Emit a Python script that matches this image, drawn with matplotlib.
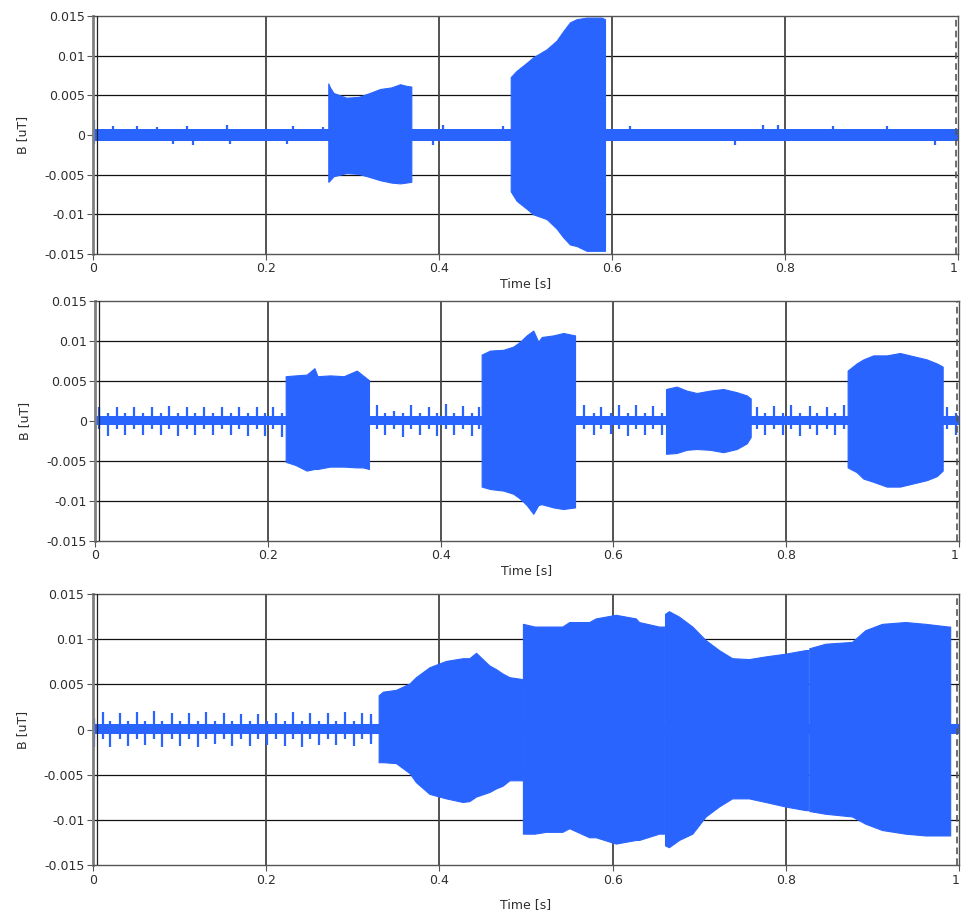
import numpy as np
import matplotlib.pyplot as plt

BLUE = '#2a64ff'

# ---------------- data ----------------
# top panel: noise band, small bumps and two bursts
p1_base_hi, p1_base_lo = 0.0008, -0.0007
p1_bump_t = [0.001, 0.023, 0.051, 0.074, 0.109, 0.155, 0.231, 0.266, 0.405, 0.474,
             0.621, 0.775, 0.792, 0.855, 0.918]
p1_bump_v = [0.0019, 0.0011, 0.0011, 0.0010, 0.0011, 0.0012, 0.0011, 0.0010, 0.0012,
             0.0011, 0.0011, 0.0012, 0.0012, 0.0011, 0.0011]
p1_dip_t = [0.001, 0.092, 0.116, 0.158, 0.224, 0.393, 0.742, 0.973]
p1_dip_v = [-0.0011, -0.0011, -0.0012, -0.0011, -0.0011, -0.0013, -0.0012, -0.0012]

p1_a_t = [0.272, 0.274, 0.278, 0.293, 0.307, 0.320, 0.332, 0.345, 0.355, 0.362, 0.368]
p1_a_hi = [0.0065, 0.0060, 0.0053, 0.0047, 0.0048, 0.0053, 0.0058, 0.0060, 0.0064, 0.0062, 0.0061]
p1_a_lo = [-0.0059, -0.0057, -0.0052, -0.0048, -0.0049, -0.0053, -0.0057, -0.0060, -0.0061, -0.0060, -0.0059]

p1_b_t = [0.4829, 0.4898, 0.5014, 0.509, 0.5245, 0.536, 0.5437, 0.5514, 0.5592, 0.5707, 0.588, 0.5919]
p1_b_hi = [0.0073, 0.0081, 0.0091, 0.0098, 0.0108, 0.0119, 0.0131, 0.0142, 0.0146, 0.0148, 0.0148, 0.0146]
p1_b_lo = [-0.0071, -0.0083, -0.0093, -0.0100, -0.0106, -0.0118, -0.0129, -0.0138, -0.0140, -0.0146, -0.0146, -0.0146]

# middle panel: periodic spikes and four bursts
p2_base_hi, p2_base_lo = 0.0006, -0.0005
p2_minor = 0.0010
p2_up_t = [0.005, 0.025, 0.045, 0.066, 0.086, 0.106, 0.126, 0.147, 0.167, 0.187, 0.206,
           0.326, 0.346, 0.366, 0.387, 0.406, 0.426, 0.445,
           0.566, 0.586, 0.607, 0.626, 0.646,
           0.766, 0.786, 0.806, 0.827, 0.847, 0.867, 0.986]
p2_up_v = [0.0018, 0.0018, 0.0017, 0.0018, 0.0019, 0.0018, 0.0018, 0.0018, 0.0018, 0.0017, 0.0018,
           0.0020, 0.0013, 0.0020, 0.0017, 0.0021, 0.0019, 0.0018,
           0.0020, 0.0017, 0.0020, 0.0020, 0.0019,
           0.0018, 0.0019, 0.0020, 0.0019, 0.0018, 0.0020, 0.0018]
p2_dn_t = [0.015, 0.035, 0.055, 0.076, 0.096, 0.116, 0.136, 0.157, 0.177, 0.197, 0.216,
           0.336, 0.356, 0.376, 0.396, 0.416, 0.436,
           0.577, 0.597, 0.617, 0.637, 0.656,
           0.776, 0.796, 0.816, 0.836, 0.857, 0.996]
p2_dn_v = [-0.0019, -0.0018, -0.0018, -0.0017, -0.0019, -0.0018, -0.0018, -0.0018, -0.0019, -0.0019, -0.0020,
           -0.0018, -0.0020, -0.0017, -0.0019, -0.0018, -0.0019,
           -0.0018, -0.0016, -0.0019, -0.0017, -0.0018,
           -0.0018, -0.0017, -0.0019, -0.0018, -0.0017, -0.0018]

p2_a_t = [0.2207, 0.232, 0.245, 0.254, 0.2575, 0.272, 0.288, 0.303, 0.310, 0.3171]
p2_a_hi = [0.0056, 0.0057, 0.0058, 0.0066, 0.0056, 0.0057, 0.0056, 0.0063, 0.0057, 0.0051]
p2_a_lo = [-0.0051, -0.0055, -0.0062, -0.0060, -0.0060, -0.0057, -0.0057, -0.0058, -0.0058, -0.0060]

p2_b_t = [0.4475, 0.4572, 0.4726, 0.4842, 0.4919, 0.4996, 0.5073, 0.5131, 0.517, 0.5305, 0.542, 0.5556]
p2_b_hi = [0.0083, 0.0088, 0.0089, 0.0093, 0.0099, 0.0107, 0.0113, 0.0099, 0.0105, 0.0107, 0.0110, 0.0107]
p2_b_lo = [-0.0082, -0.0085, -0.0087, -0.0091, -0.0097, -0.0105, -0.0116, -0.0105, -0.0104, -0.0108, -0.0110, -0.0108]

p2_c_t = [0.6609, 0.6732, 0.6848, 0.6964, 0.7118, 0.7272, 0.7427, 0.7543, 0.7589]
p2_c_hi = [0.0040, 0.0043, 0.0038, 0.0035, 0.0038, 0.0040, 0.0036, 0.0032, 0.0028]
p2_c_lo = [-0.0041, -0.0040, -0.0036, -0.0035, -0.0036, -0.0039, -0.0035, -0.0028, -0.0020]

p2_d_t = [0.8711, 0.8816, 0.8893, 0.9008, 0.9163, 0.9317, 0.9471, 0.9626, 0.9742, 0.9811]
p2_d_hi = [0.0063, 0.0072, 0.0077, 0.0082, 0.0082, 0.0085, 0.0081, 0.0077, 0.0072, 0.0068]
p2_d_lo = [-0.0058, -0.0064, -0.0072, -0.0076, -0.0082, -0.0082, -0.0078, -0.0074, -0.0069, -0.0062]

# bottom panel: spikes then one long, modulated burst in four pieces
p3_base_hi, p3_base_lo = 0.0006, -0.0005
p3_minor = 0.0010
p3_up_t = [0.001, 0.0115, 0.0315, 0.0507, 0.0706, 0.091, 0.111, 0.1313, 0.1513, 0.1712, 0.1912,
           0.2112, 0.2311, 0.2512, 0.2714, 0.2907, 0.311, 0.3214]
p3_up_v = [0.0013, 0.0019, 0.0018, 0.0019, 0.0021, 0.0018, 0.0018, 0.0019, 0.0018, 0.0017, 0.0017,
           0.0018, 0.0019, 0.0018, 0.0018, 0.0019, 0.0018, 0.0017]
p3_dn_t = [0.001, 0.0199, 0.0403, 0.0603, 0.0805, 0.1006, 0.1217, 0.1409, 0.1613, 0.1812, 0.2012,
           0.2215, 0.2419, 0.2611, 0.281, 0.302, 0.3214]
p3_dn_v = [-0.0019, -0.0019, -0.0018, -0.0017, -0.0019, -0.0018, -0.0019, -0.0016, -0.0018, -0.0018, -0.0017,
           -0.0018, -0.0019, -0.0017, -0.0017, -0.0018, -0.0016]

p3_a_t = [0.330, 0.335, 0.350, 0.3656, 0.373, 0.3886, 0.4078, 0.427, 0.4347, 0.4424, 0.4577, 0.4654, 0.473, 0.481, 0.4954]
p3_a_hi = [0.0038, 0.0042, 0.0044, 0.0051, 0.0058, 0.0069, 0.0076, 0.0079, 0.0079, 0.0085, 0.0071, 0.0067, 0.0062, 0.0058, 0.0056]
p3_a_lo = [-0.0036, -0.0036, -0.0037, -0.0048, -0.0058, -0.0071, -0.0076, -0.0080, -0.0079, -0.0074, -0.0069, -0.0065, -0.0062, -0.0056, -0.0056]

p3_b_t = [0.4965, 0.51, 0.523, 0.542, 0.550, 0.573, 0.5806, 0.6037, 0.6267, 0.6305, 0.6536, 0.6595]
p3_b_hi = [0.0117, 0.0114, 0.0114, 0.0114, 0.0119, 0.0119, 0.0123, 0.0127, 0.0123, 0.0119, 0.0114, 0.0114]
p3_b_lo = [-0.0115, -0.0115, -0.0113, -0.0113, -0.0109, -0.0119, -0.0119, -0.0126, -0.0122, -0.0122, -0.0115, -0.0115]

p3_c_t = [0.6605, 0.665, 0.6766, 0.692, 0.7074, 0.7227, 0.738, 0.7573, 0.7765, 0.7995, 0.8226, 0.826]
p3_c_hi = [0.0128, 0.0131, 0.0125, 0.0114, 0.0099, 0.0088, 0.0079, 0.0078, 0.0081, 0.0084, 0.0088, 0.0088]
p3_c_lo = [-0.0128, -0.0130, -0.0122, -0.0115, -0.0096, -0.0085, -0.0076, -0.0076, -0.0080, -0.0085, -0.0089, -0.0089]

p3_d_t = [0.827, 0.8456, 0.8763, 0.8917, 0.911, 0.9378, 0.961, 0.9877, 0.9896]
p3_d_hi = [0.0090, 0.0095, 0.0097, 0.0110, 0.0117, 0.0119, 0.0117, 0.0114, 0.0114]
p3_d_lo = [-0.0090, -0.0093, -0.0096, -0.0104, -0.0111, -0.0115, -0.0117, -0.0117, -0.0117]

x_ticks = [0, 0.2, 0.4, 0.6, 0.8, 1]
x_ticklabels = ['0', '0.2', '0.4', '0.6', '0.8', '1']
y_ticks = [0.015, 0.01, 0.005, 0, -0.005, -0.01, -0.015]
y_ticklabels = ['0.015', '0.01', '0.005', '0', '-0.005', '-0.01', '-0.015']
cursor_left, cursor_right = 0.0045, 0.9975

# ---------------- drawing ----------------
plt.rcParams['font.family'] = 'DejaVu Sans'
TXT = '#2e2e2e'

fig = plt.figure(figsize=(9.62, 9.16), dpi=100)
fig.patch.set_facecolor('white')

ax1 = fig.add_axes([93 / 962, 1 - 254 / 916, 865 / 962, 238 / 916])
ax2 = fig.add_axes([95 / 962, 1 - 541 / 916, 864 / 962, 240 / 916])
ax3 = fig.add_axes([92.7 / 962, 1 - 865.3 / 916, 866.5 / 962, 271.3 / 916])


def style(ax, xpad):
    ax.set_xlim(0, 1)
    ax.set_ylim(-0.015, 0.015)
    ax.set_axisbelow(True)
    for y in y_ticks[1:-1]:
        ax.axhline(y, color='#111111', lw=0.9, zorder=0)
    for x in x_ticks[1:-1]:
        ax.axvline(x, color='#444444', lw=1.3, zorder=0)
    ax.axvline(cursor_left, color='#222222', lw=0.9, zorder=5)
    ax.axvline(cursor_right, color='#555555', lw=1.2, ls=(0, (4, 2.5)), zorder=5)
    ax.set_xticks(x_ticks)
    ax.set_xticklabels(x_ticklabels)
    ax.set_yticks(y_ticks)
    ax.set_yticklabels(y_ticklabels)
    ax.tick_params(direction='out', length=4, width=0.8, color='#555555',
                   labelsize=9, labelcolor=TXT, pad=2)
    for s in ['top', 'bottom', 'right']:
        ax.spines[s].set_color('#555555')
        ax.spines[s].set_linewidth(1.0)
    ax.spines['left'].set_color('#808080')
    ax.spines['left'].set_linewidth(2.0)
    ax.set_xlabel('Time [s]', fontsize=9, color=TXT, labelpad=xpad)
    ax.set_ylabel('B [uT]', fontsize=9, color=TXT, labelpad=11)
    # keep the last tick label inside the figure
    ax.get_xticklabels()[-1].set_horizontalalignment('right')


def burst(ax, t, hi, lo):
    ax.fill_between(t, lo, hi, color=BLUE, lw=0.8, edgecolor=BLUE, zorder=2)


# top
ax1.fill_between([0, 1], p1_base_lo, p1_base_hi, color=BLUE, lw=0, zorder=2)
ax1.vlines(p1_bump_t, 0, p1_bump_v, color=BLUE, lw=1.6, zorder=2)
ax1.vlines(p1_dip_t, p1_dip_v, 0, color=BLUE, lw=1.6, zorder=2)
burst(ax1, p1_a_t, p1_a_hi, p1_a_lo)
burst(ax1, p1_b_t, p1_b_hi, p1_b_lo)
style(ax1, 1)

# middle
ax2.fill_between([0, 1], p2_base_lo, p2_base_hi, color=BLUE, lw=0, zorder=2)
ax2.vlines(p2_up_t, -p2_minor, p2_up_v, color=BLUE, lw=1.6, zorder=2)
ax2.vlines(p2_dn_t, p2_dn_v, p2_minor, color=BLUE, lw=1.6, zorder=2)
burst(ax2, p2_a_t, p2_a_hi, p2_a_lo)
burst(ax2, p2_b_t, p2_b_hi, p2_b_lo)
burst(ax2, p2_c_t, p2_c_hi, p2_c_lo)
burst(ax2, p2_d_t, p2_d_hi, p2_d_lo)
style(ax2, 1)

# bottom
ax3.fill_between([0, 1], p3_base_lo, p3_base_hi, color=BLUE, lw=0, zorder=2)
ax3.vlines(p3_up_t, -p3_minor, p3_up_v, color=BLUE, lw=1.6, zorder=2)
ax3.vlines(p3_dn_t, p3_dn_v, p3_minor, color=BLUE, lw=1.6, zorder=2)
burst(ax3, p3_a_t, p3_a_hi, p3_a_lo)
burst(ax3, p3_b_t, p3_b_hi, p3_b_lo)
burst(ax3, p3_c_t, p3_c_hi, p3_c_lo)
burst(ax3, p3_d_t, p3_d_hi, p3_d_lo)
style(ax3, 8)

fig.savefig('out.png', dpi=100, facecolor='white')
